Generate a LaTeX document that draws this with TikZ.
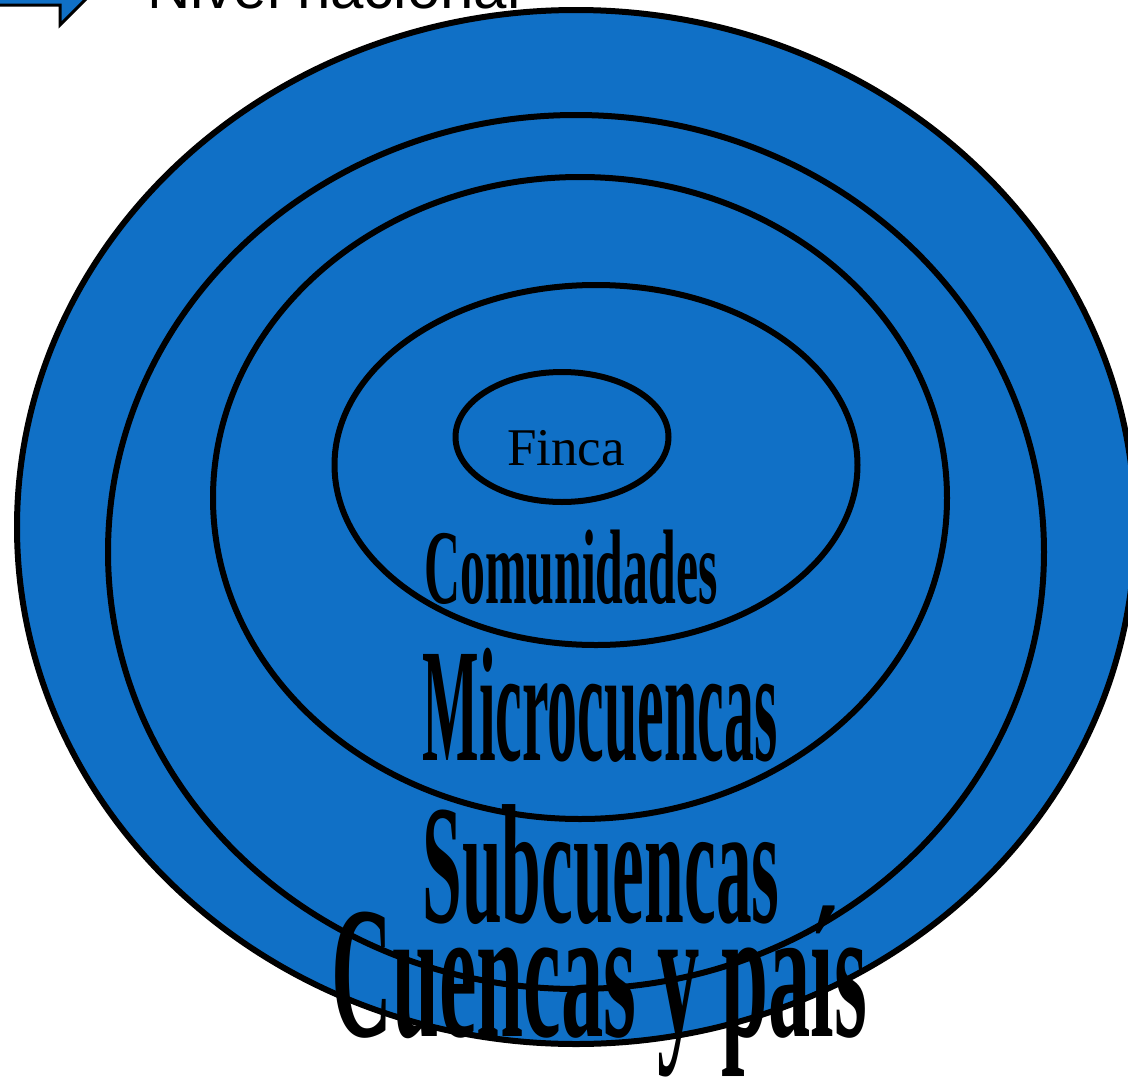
\documentclass[tikz,border=0pt]{standalone}
\usepackage{fontspec}
\setmainfont{Liberation Serif}
\newfontfamily\arialfont{Liberation Sans}
\usetikzlibrary{shapes.geometric}
\definecolor{levelblue}{HTML}{1070C6}

\begin{document}
\begin{tikzpicture}[x=1pt,y=-1pt,
    level/.style={ellipse, draw=black, fill=levelblue, line width=6pt, inner sep=0pt},
    wordart/.style={font=\bfseries, anchor=base, inner sep=0pt}]
  \useasboundingbox (0,0) rectangle (1128,1090);
  \clip (0,0) rectangle (1128,1090);
  \fill[white] (0,0) rectangle (1128,1090);

  % arrow and title, cut at the top edge
  \draw[fill=levelblue, line width=3pt] (-20,-35) -- (60,-35) -- (60,-55) -- (100,-15)
    -- (60,25) -- (60,5) -- (-20,5) -- cycle;
  \node[anchor=base west, inner sep=0pt, font=\arialfont\fontsize{60}{60}\selectfont]
    (nivel) at (147,8) {Nivel nacional};

  % nested levels
  \node[level, minimum width=1118pt, minimum height=1034pt] (pais) at (576,527) {};
  \node[level, minimum width=936pt, minimum height=874pt] (subcuencas) at (576,552) {};
  \node[level, minimum width=734pt, minimum height=642pt] (micro) at (580,498) {};
  \node[level, minimum width=523pt, minimum height=360pt] (comunidades) at (596,465) {};
  \node[level, minimum width=213pt, minimum height=130pt] (finca) at (562,437) {};

  % labels
  \node[anchor=base, inner sep=0pt, font=\fontsize{53}{53}\selectfont] (tfinca) at (566,465) {Finca};
  \node[wordart, font=\bfseries\fontsize{106}{106}\selectfont, xscale=0.47] (tcom) at (571,603) {Comunidades};
  \node[wordart, font=\bfseries\fontsize{162}{162}\selectfont, xscale=0.37] (tmicro) at (600,760) {Microcuencas};
  \node[wordart, font=\bfseries\fontsize{170}{170}\selectfont, xscale=0.42] (tsub) at (601,922) {Subcuencas};
  \node[wordart, font=\bfseries\fontsize{188}{188}\selectfont, xscale=0.45] (tpais) at (599,1036) {Cuencas y país};
\end{tikzpicture}
\end{document}
